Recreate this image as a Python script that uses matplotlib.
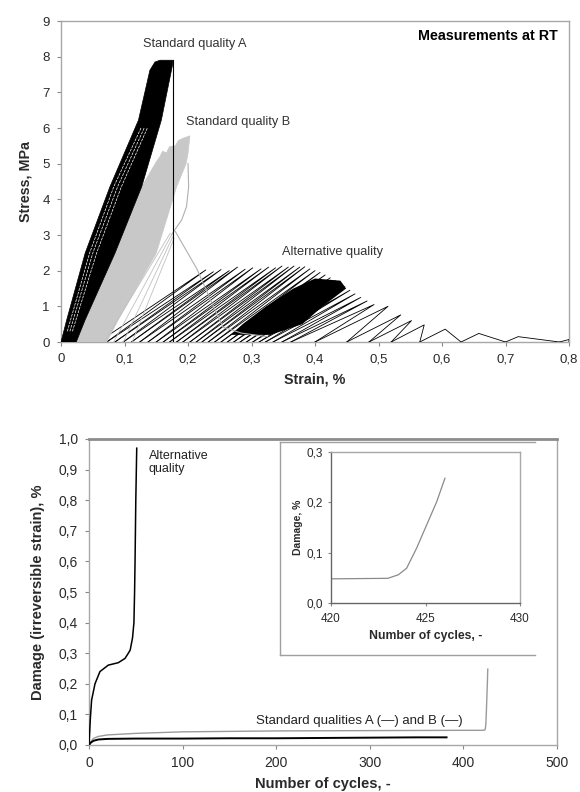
import matplotlib
matplotlib.use('Agg')
import matplotlib.pyplot as plt
from matplotlib.ticker import FuncFormatter

plt.rcParams['font.family'] = ['Liberation Sans', 'DejaVu Sans']

# ---------------- Top chart: stress-strain hysteresis ----------------
# Standard quality A (black band outline)
A_band_e = [0.000, 0.009, 0.038, 0.077, 0.122, 0.140, 0.148, 0.156, 0.176, 0.176, 0.158, 0.127, 0.085, 0.038, 0.024]
A_band_s = [0.00, 0.62, 2.49, 4.35, 6.22, 7.62, 7.85, 7.90, 7.90, 7.80, 6.22, 4.35, 2.49, 0.62, 0.00]
A_stripe_s = [0.3, 2.49, 4.35, 6.0]
A_stripe1_e = [0.010, 0.045, 0.083, 0.126]
A_stripe2_e = [0.014, 0.050, 0.089, 0.131]
A_stripe3_e = [0.018, 0.056, 0.095, 0.136]
A_fracture_e = [0.1756, 0.1756]
A_fracture_s = [7.90, 0.00]

# Standard quality B (grey band outline)
B_band_e = [0.024, 0.038, 0.085, 0.127, 0.150, 0.156, 0.160, 0.166, 0.171, 0.180, 0.185, 0.192, 0.203,
            0.200, 0.197, 0.182, 0.150, 0.090, 0.072]
B_band_s = [0.00, 0.62, 2.49, 4.35, 5.05, 5.20, 5.35, 5.30, 5.48, 5.50, 5.65, 5.71, 5.78,
            5.29, 5.00, 4.35, 2.49, 0.62, 0.00]
B_curve_e = [0.200, 0.201, 0.1976, 0.190, 0.179, 0.174]
B_curve_s = [5.00, 4.35, 3.79, 3.42, 3.14, 3.00]
B_drop_e = [0.180, 0.214, 0.235, 0.255, 0.284, 0.325]
B_drop_s = [3.10, 2.05, 1.20, 0.42, 0.25, 0.15]
B_fail_top_e = [0.172, 0.174, 0.176, 0.178]
B_fail_top_s = [3.05, 3.00, 2.95, 2.90]
B_fail_bot_e = [0.068, 0.083, 0.098, 0.112]

# Alternative quality: loop peaks and loading start strains
alt_peak_e = [0.228, 0.240, 0.252, 0.265, 0.278, 0.290, 0.302, 0.315, 0.327, 0.338, 0.348, 0.358,
              0.367, 0.376, 0.384, 0.392, 0.400, 0.408, 0.416, 0.424, 0.432, 0.440, 0.447, 0.455,
              0.463, 0.472, 0.482, 0.493, 0.515, 0.535, 0.552, 0.572, 0.605, 0.658, 0.720, 0.800]
alt_peak_s = [2.02, 1.97, 2.03, 2.00, 2.10, 2.04, 2.08, 2.05, 2.10, 2.08, 2.13, 2.10,
              2.13, 2.10, 2.11, 2.05, 2.00, 1.95, 1.88, 1.80, 1.72, 1.65, 1.55, 1.45,
              1.35, 1.25, 1.15, 1.05, 1.00, 0.76, 0.60, 0.48, 0.36, 0.24, 0.15, 0.07]
alt_start_e = [0.059, 0.072, 0.085, 0.098, 0.111, 0.124, 0.137, 0.150, 0.161, 0.171, 0.182, 0.192,
               0.203, 0.213, 0.222, 0.232, 0.242, 0.252, 0.262, 0.272, 0.282, 0.292, 0.302, 0.312,
               0.322, 0.334, 0.348, 0.362, 0.400, 0.450, 0.485, 0.520, 0.565, 0.630, 0.700, 0.785, 0.800]
alt_dense_e = [0.268, 0.330, 0.380, 0.412, 0.449, 0.440, 0.400, 0.366, 0.323, 0.286]
alt_dense_s = [0.20, 0.20, 0.50, 1.00, 1.50, 1.72, 1.78, 1.50, 1.00, 0.50]

# ---------------- Bottom chart: damage vs cycles ----------------
cyc_alt = [0, 0.5, 1, 1.5, 2.8, 6.4, 11.7, 20.6, 31.3, 38.5, 42, 44, 46.5, 48, 48.7, 49.2, 50, 51]
dmg_alt = [0.0, 0.03, 0.06, 0.09, 0.147, 0.20, 0.24, 0.261, 0.269, 0.283, 0.30, 0.31, 0.35, 0.40, 0.50, 0.60, 0.80, 0.97]
cyc_A = [0, 2, 5, 10, 20, 50, 100, 150, 200, 250, 300, 350, 382]
dmg_A = [0.0, 0.008, 0.014, 0.018, 0.020, 0.021, 0.021, 0.022, 0.022, 0.023, 0.024, 0.025, 0.025]
cyc_B = [0, 2, 5, 10, 20, 50, 100, 200, 300, 400, 420, 423, 423.56, 424.0, 424.53, 425.06, 425.59, 426.03]
dmg_B = [0.0, 0.012, 0.022, 0.028, 0.033, 0.038, 0.043, 0.046, 0.047, 0.048, 0.048, 0.049, 0.056, 0.069, 0.109, 0.155, 0.201, 0.248]

x_ticks_top = [0, 0.1, 0.2, 0.3, 0.4, 0.5, 0.6, 0.7, 0.8]
y_ticks_top = [0, 1, 2, 3, 4, 5, 6, 7, 8, 9]
x_ticks_bot = [0, 100, 200, 300, 400, 500]
y_ticks_bot = [0.0, 0.1, 0.2, 0.3, 0.4, 0.5, 0.6, 0.7, 0.8, 0.9, 1.0]
x_ticks_ins = [420, 425, 430]
y_ticks_ins = [0.0, 0.1, 0.2, 0.3]

SPINE = '#a8a8a8'
TXT = '#2a2a2a'
GREY = '#c8c8c8'


def comma(fmt):
    return FuncFormatter(lambda v, p: (fmt.format(v)).replace('.', ','))


def style_axes(ax, fs, pad=6, length=3):
    for sp in ax.spines.values():
        sp.set_color(SPINE)
        sp.set_linewidth(1.0)
    ax.tick_params(direction='out', length=length, width=0.8, color='#888888',
                   labelsize=fs, labelcolor=TXT, pad=pad)


fig = plt.figure(figsize=(5.8, 7.92), dpi=100)

# ---------- top axes ----------
ax1 = fig.add_axes([61 / 580, 1 - 342 / 792, (569 - 61) / 580, (342 - 21) / 792])
style_axes(ax1, 9.5, pad=5)
ax1.set_xlim(0, 0.8)
ax1.set_ylim(0, 9)
ax1.set_xticks(x_ticks_top)
ax1.set_yticks(y_ticks_top)
ax1.xaxis.set_major_formatter(FuncFormatter(lambda v, p: '0' if abs(v) < 1e-9 else f'{v:.1f}'.replace('.', ',')))

# alternative quality loops
for i in range(len(alt_peak_e)):
    ax1.plot([alt_start_e[i], alt_peak_e[i], alt_start_e[i + 1]],
             [0, alt_peak_s[i], 0], color='black', lw=0.6, zorder=3)
ax1.fill(alt_dense_e, alt_dense_s, color='black', lw=0, zorder=3)

# quality B
ax1.fill(B_band_e, B_band_s, color=GREY, lw=0.5, ec=GREY, zorder=4)
ax1.plot(B_curve_e, B_curve_s, color='#b0b0b0', lw=0.8, zorder=4)
ax1.plot(B_drop_e, B_drop_s, color='#b0b0b0', lw=0.8, zorder=4)
for te, ts, be in zip(B_fail_top_e, B_fail_top_s, B_fail_bot_e):
    ax1.plot([te, be], [ts, 0], color='#c0c0c0', lw=0.6, zorder=4)

# quality A
ax1.fill(A_band_e, A_band_s, color='black', lw=0.5, ec='black', zorder=5)
for se in (A_stripe1_e, A_stripe2_e, A_stripe3_e):
    ax1.plot(se, A_stripe_s, color='white', lw=0.5, ls=(0, (4, 1.5)), zorder=6)
ax1.plot(A_fracture_e, A_fracture_s, color='black', lw=0.8, zorder=6)

ax1.text(0.129, 8.35, 'Standard quality A', fontsize=9.2, color='#333333', va='center', ha='left')
ax1.text(0.197, 6.17, 'Standard quality B', fontsize=9.2, color='#333333', va='center', ha='left')
ax1.text(0.348, 2.52, 'Alternative quality', fontsize=9.2, color='#333333', va='center', ha='left')
ax1.text(0.783, 8.58, 'Measurements at RT', fontsize=10.3, fontweight='bold', color='black',
         va='center', ha='right')
ax1.set_xlabel('Strain, %', fontsize=10.3, fontweight='bold', color=TXT, labelpad=5)
ax1.set_ylabel('Stress, MPa', fontsize=10.3, fontweight='bold', color=TXT, labelpad=7)

# ---------- bottom axes ----------
ax2 = fig.add_axes([89 / 580, 1 - 745 / 792, (557 - 89) / 580, (745 - 439) / 792])
style_axes(ax2, 10, pad=5)
ax2.spines['top'].set_color('#8c8c8c')
ax2.spines['top'].set_linewidth(2.0)
ax2.set_xlim(0, 500)
ax2.set_ylim(0, 1.0)
ax2.set_xticks(x_ticks_bot)
ax2.set_yticks(y_ticks_bot)
ax2.yaxis.set_major_formatter(comma('{:.1f}'))
ax2.plot(cyc_B, dmg_B, color='#9a9a9a', lw=1.0, zorder=3)
ax2.plot(cyc_A, dmg_A, color='black', lw=1.4, zorder=4)
ax2.plot(cyc_alt, dmg_alt, color='black', lw=1.1, zorder=4)
ax2.text(64, 0.965, 'Alternative\nquality', fontsize=9, color='#222222', va='top', ha='left',
         linespacing=1.15)
ax2.text(178, 0.079, 'Standard qualities A (\u2014) and B (\u2014)', fontsize=9.5, color='#222222',
         va='center', ha='left')
ax2.set_xlabel('Number of cycles, -', fontsize=10.5, fontweight='bold', color=TXT, labelpad=5)
ax2.set_ylabel('Damage (irreversible strain), %', fontsize=10.5, fontweight='bold', color=TXT, labelpad=10)

# ---------- inset frame ----------
axb = fig.add_axes([280 / 580, 1 - 655 / 792, (535 - 280) / 580, (655 - 442) / 792])
axb.set_xticks([])
axb.set_yticks([])
axb.patch.set_alpha(0)
for k, sp in axb.spines.items():
    sp.set_color('#a0a0a0')
    sp.set_linewidth(1.0)
axb.spines['right'].set_visible(False)

# ---------- inset axes ----------
ax3 = fig.add_axes([331 / 580, 1 - 603 / 792, (520 - 331) / 580, (603 - 452) / 792])
style_axes(ax3, 8.5, pad=3, length=2.5)
ax3.tick_params(axis='x', pad=5)
ax3.spines['left'].set_color('#666666')
ax3.spines['bottom'].set_color('#666666')
ax3.set_xlim(420, 430)
ax3.set_ylim(0, 0.3)
ax3.set_xticks(x_ticks_ins)
ax3.set_yticks(y_ticks_ins)
ax3.yaxis.set_major_formatter(comma('{:.1f}'))
ax3.plot(cyc_B, dmg_B, color='#8a8a8a', lw=0.9)
ax3.set_xlabel('Number of cycles, -', fontsize=8.8, fontweight='bold', color=TXT, labelpad=3)
ax3.set_ylabel('Damage, %', fontsize=7.5, fontweight='bold', color=TXT, labelpad=3)

fig.savefig('out.png', dpi=100)
